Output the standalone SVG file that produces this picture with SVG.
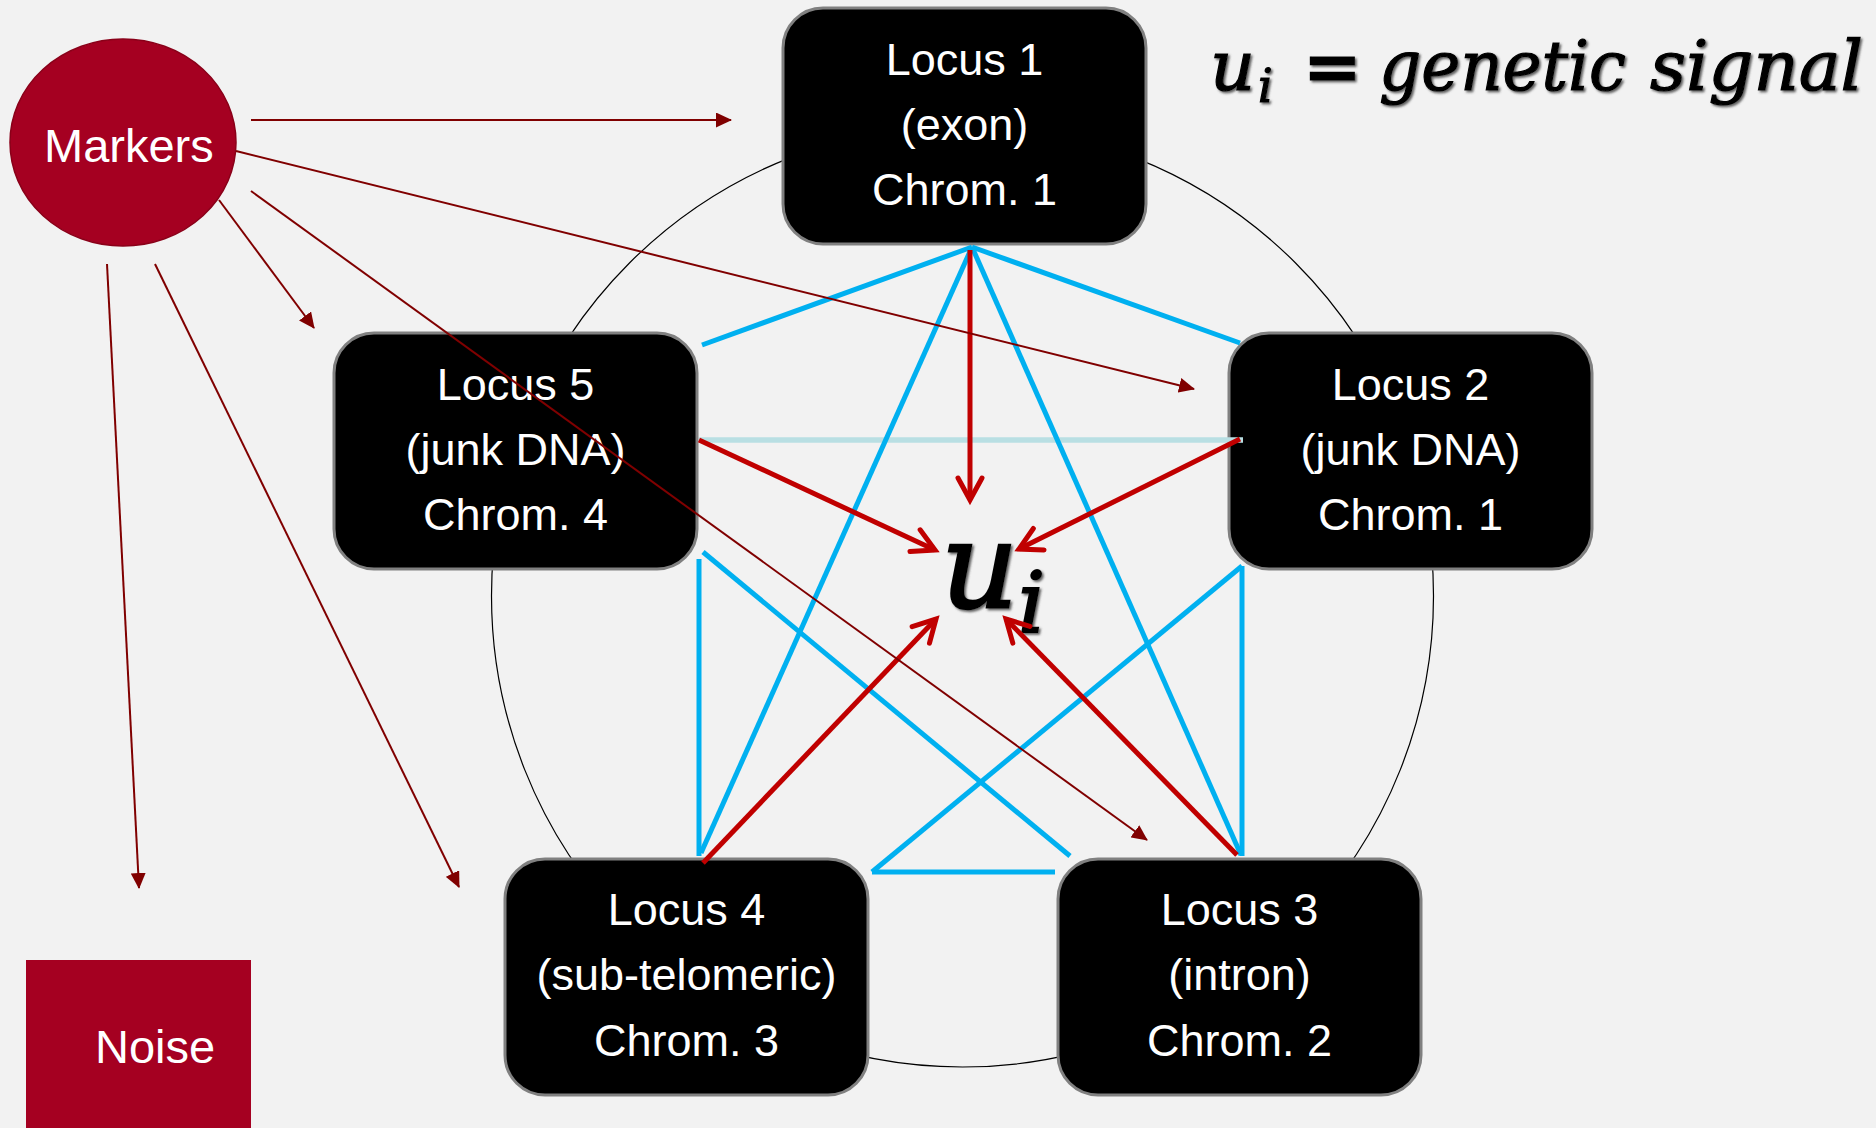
<svg xmlns="http://www.w3.org/2000/svg" width="1876" height="1128" viewBox="0 0 1876 1128">
  <style>
    .locus rect { fill: #000; stroke: #808080; stroke-width: 3; }
    .locus text { fill: #fff; font-family: "Liberation Sans", Arial, sans-serif; font-size: 45px; text-anchor: middle; }
    .src { fill: #A50021; }
    .src text { fill: #fff; font-family: "Liberation Sans", Arial, sans-serif; font-size: 47px; }
    .math { font-family: "DejaVu Serif", "Liberation Serif", serif; font-style: italic; fill: #000; stroke: #000; stroke-width: 1.2; }
    .link { stroke: #00B0F0; stroke-width: 5; fill: none; }
    .weak { stroke: #B9DFE3; stroke-width: 5.5; fill: none; }
    .signal { stroke: #C00000; stroke-width: 5; fill: none; marker-end: url(#open); }
    .marker-link { stroke: #800000; stroke-width: 2; fill: none; marker-end: url(#solid); }
  </style>
  <defs>
    <marker id="open" markerUnits="userSpaceOnUse" viewBox="-30 -16 34 32" refX="0" refY="0" markerWidth="34" markerHeight="32" orient="auto" overflow="visible">
      <path d="M-22,-12 L0,0 L-22,12" fill="none" stroke="#C00000" stroke-width="5" stroke-linecap="round" stroke-linejoin="miter"/>
    </marker>
    <marker id="solid" markerUnits="userSpaceOnUse" viewBox="0 0 16 15" refX="15" refY="7.5" markerWidth="16" markerHeight="15" orient="auto">
      <path d="M0,0 L16,7.5 L0,15 z" fill="#800000"/>
    </marker>
    <filter id="shade" x="-5%" y="-20%" width="110%" height="140%">
      <feDropShadow dx="1.8" dy="1.8" stdDeviation="0.8" flood-color="#444" flood-opacity="0.85"/>
    </filter>
  </defs>

  <rect width="1876" height="1128" fill="#F2F2F2"/>

  <!-- ring joining the five loci -->
  <circle cx="962.5" cy="596" r="471" fill="none" stroke="#000" stroke-width="1.2"/>

  <!-- sources -->
  <g id="markers" class="src">
    <ellipse cx="123" cy="142.5" rx="113" ry="103.5" stroke="#8A0019" stroke-width="1.5"/>
    <text x="44" y="162">Markers</text>
  </g>
  <g id="noise" class="src">
    <rect x="26" y="960" width="225" height="180"/>
    <text x="95" y="1063">Noise</text>
  </g>

  <!-- loci -->
  <g id="locus1" class="locus">
    <rect x="783" y="8" width="363" height="236" rx="40"/>
    <text x="964.5" y="75">Locus 1</text>
    <text x="964.5" y="140">(exon)</text>
    <text x="964.5" y="205">Chrom. 1</text>
  </g>
  <g id="locus2" class="locus">
    <rect x="1229" y="333" width="363" height="236" rx="40"/>
    <text x="1410.5" y="400">Locus 2</text>
    <text x="1410.5" y="465">(junk DNA)</text>
    <text x="1410.5" y="530">Chrom. 1</text>
  </g>
  <g id="locus3" class="locus">
    <rect x="1058" y="859" width="363" height="236" rx="40"/>
    <text x="1239.5" y="925">Locus 3</text>
    <text x="1239.5" y="990">(intron)</text>
    <text x="1239.5" y="1056">Chrom. 2</text>
  </g>
  <g id="locus4" class="locus">
    <rect x="505" y="859" width="363" height="236" rx="40"/>
    <text x="686.5" y="925">Locus 4</text>
    <text x="686.5" y="990">(sub-telomeric)</text>
    <text x="686.5" y="1056">Chrom. 3</text>
  </g>
  <g id="locus5" class="locus">
    <rect x="334" y="333" width="363" height="236" rx="40"/>
    <text x="515.5" y="400">Locus 5</text>
    <text x="515.5" y="465">(junk DNA)</text>
    <text x="515.5" y="530">Chrom. 4</text>
  </g>

  <!-- combined signal -->
  <g id="signal" class="math" filter="url(#shade)">
    <text x="941" y="607" font-size="120" stroke-width="2.5">u</text>
    <text x="1018" y="632" font-size="85" stroke-width="2">i</text>
  </g>

  <!-- legend -->
  <g id="legend" class="math" filter="url(#shade)">
    <text x="1210" y="90" font-size="70">u</text>
    <text x="1258" y="102" font-size="46">i</text>
    <text x="1303" y="90" font-size="70" font-style="normal" font-weight="bold">=</text>
    <text x="1379" y="90" font-size="70" textLength="247" lengthAdjust="spacingAndGlyphs">genetic</text>
    <text x="1650" y="90" font-size="70" textLength="213" lengthAdjust="spacingAndGlyphs">signal</text>
  </g>

  <g id="connectors">
    <!-- links between loci -->
    <line class="weak" x1="699" y1="440" x2="1243" y2="440"/>
    <line class="link" x1="972" y1="247" x2="702" y2="345"/>
    <line class="link" x1="972" y1="247" x2="1240" y2="343"/>
    <line class="link" x1="972" y1="247" x2="701" y2="853"/>
    <line class="link" x1="972" y1="247" x2="1241" y2="855"/>
    <line class="link" x1="699" y1="559" x2="699" y2="856"/>
    <line class="link" x1="703" y1="552" x2="1070" y2="856"/>
    <line class="link" x1="872" y1="872" x2="1055" y2="872"/>
    <line class="link" x1="872" y1="872" x2="1242" y2="566"/>
    <line class="link" x1="1242" y1="566" x2="1242" y2="856"/>

    <!-- loci feeding the signal -->
    <line class="signal" x1="970" y1="250" x2="970" y2="500"/>
    <line class="signal" x1="699" y1="440" x2="935" y2="550"/>
    <line class="signal" x1="1240" y1="439" x2="1019" y2="549"/>
    <line class="signal" x1="703" y1="863" x2="936" y2="619"/>
    <line class="signal" x1="1237" y1="855" x2="1006" y2="619"/>

    <!-- markers to loci and noise -->
    <line class="marker-link" x1="251" y1="120" x2="731" y2="120"/>
    <line class="marker-link" x1="236" y1="151" x2="1194" y2="389"/>
    <line class="marker-link" x1="219" y1="200" x2="314" y2="328"/>
    <line class="marker-link" x1="251" y1="191" x2="1147" y2="840"/>
    <line class="marker-link" x1="107" y1="264" x2="139" y2="888"/>
    <line class="marker-link" x1="155" y1="264" x2="459" y2="887"/>
  </g>
</svg>
